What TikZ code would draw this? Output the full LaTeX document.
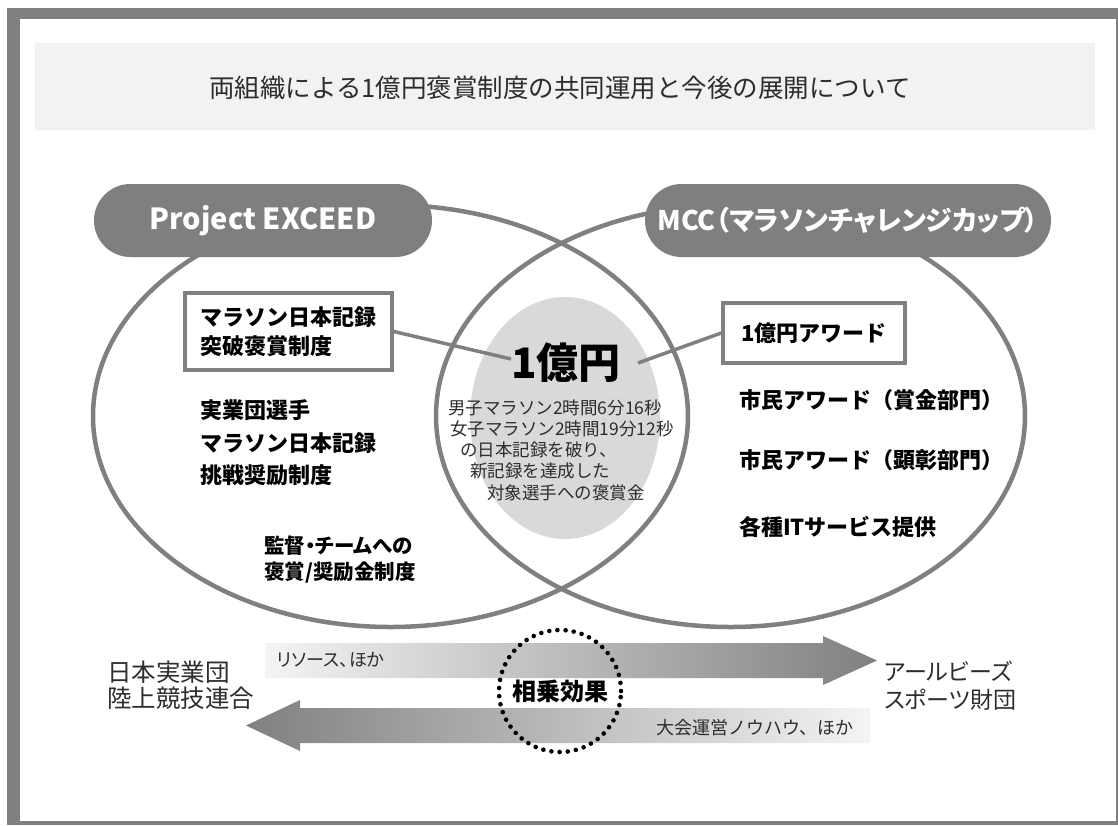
\documentclass[tikz,border=0pt]{standalone}
\usepackage{fontspec}
\setmainfont{Noto Sans CJK JP}
\newfontfamily\paltfont{Noto Sans CJK JP}[RawFeature=+palt]
\newcommand\myfs[2]{\fontsize{#1}{#2}\selectfont}
\definecolor{ring}{RGB}{128,128,128}
\definecolor{pillgray}{RGB}{127,127,127}
\definecolor{band}{RGB}{242,242,242}
\definecolor{blob}{RGB}{217,217,217}
\definecolor{txtdark}{RGB}{45,45,45}
\definecolor{arrowlight}{RGB}{244,244,244}
\begin{document}
\begin{tikzpicture}[x=1pt,y=-1pt,
  ringline/.style={draw=ring, line width=4.5},
  pill/.style={fill=pillgray, rounded corners=36.5, minimum width=338, minimum height=73, text=white, inner sep=0},
  framebox/.style={draw=ring, line width=3.5, fill=white, inner sep=0, align=left, font=\bfseries\myfs{22}{29}},
  conn/.style={draw=ring, line width=3.5},
  boldtxt/.style={font=\bfseries\myfs{22}{32.5}, align=left, text=black, inner sep=0, anchor=west},
  smalltxt/.style={font=\myfs{17.5}{21}, text=txtdark, inner sep=0, anchor=west},
  labeltxt/.style={font=\myfs{24.5}{26}, text=txtdark, inner sep=0, anchor=west, align=left},
  dotcircle/.style={circle, draw=black, line width=4.6, dash pattern=on 0pt off 8.2pt, line cap=round, minimum size=122, inner sep=0, font=\bfseries\myfs{24}{28}}
]
\useasboundingbox (0,0) rectangle (1118,825);
% outer frame
\fill[ring] (7,8) rectangle (1118,825);
\fill[white] (20,19) rectangle (1116,821);
% title band
\fill[band] (35,43) rectangle (1095,130);
\node[font=\myfs{25.5}{30}, text=txtdark, inner sep=0] (title) at (560,88) {両組織による1億円褒賞制度の共同運用と今後の展開について};

% central blob
\fill[blob] (565,418) ellipse [x radius=95, y radius=121];

% two ellipses
\draw[ringline] (390.5,416) ellipse [x radius=297.5, y radius=211];
\draw[ringline] (730.5,416) ellipse [x radius=294.5, y radius=211];

% pills
\node[pill, font=\bfseries\myfs{29}{34}] (pe) at (263,220.5) {Project EXCEED};
\node[pill, minimum width=406, font=\paltfont\bfseries\myfs{27}{32}] (mcc) at (848,220.5) {MCC（マラソンチャレンジカップ）};

% boxes
\node[framebox, minimum width=207, minimum height=77] (b1) at (288.5,331.5) {マラソン日本記録\\突破褒賞制度};
\node[framebox, minimum width=182, minimum height=60] (b2) at (814,333) {1億円アワード};

% center
\node[font=\bfseries\myfs{42}{46}, text=black, inner sep=0] (oku) at (566,363) {1億円};
\draw[conn] (b1.east) -- ([yshift=4]oku.west);
\draw[conn] ([xshift=17]oku.east) -- (b2.west);

\node[smalltxt] (s1) at (448,408) {男子マラソン2時間6分16秒};
\node[smalltxt] (s2) at (450,429) {女子マラソン2時間19分12秒};
\node[smalltxt] (s3) at (460,450) {の日本記録を破り、};
\node[smalltxt] (s4) at (470,471) {新記録を達成した};
\node[smalltxt] (s5) at (487,493) {対象選手への褒賞金};

% left texts
\node[boldtxt] (l1) at (200,443) {実業団選手\\マラソン日本記録\\挑戦奨励制度};
\node[boldtxt, font=\paltfont\bfseries\myfs{20.5}{26}] (l2) at (264,559.5) {監督・チームへの\\褒賞/奨励金制度};

% right texts
\node[boldtxt] (r1) at (739,400) {市民アワード（賞金部門）};
\node[boldtxt] (r2) at (739,460) {市民アワード（顕彰部門）};
\node[boldtxt] (r3) at (739,527) {各種ITサービス提供};

% bottom arrows
\shade[left color=arrowlight, right color=ring]
  (265,643) -- (823,643) -- (823,636) -- (877,660.5) -- (823,685) -- (823,678) -- (265,678) -- cycle;
\shade[left color=ring, right color=arrowlight]
  (246,725.5) -- (300,700) -- (300,708) -- (870,708) -- (870,743) -- (300,743) -- (300,751) -- cycle;

\node[smalltxt, font=\paltfont\myfs{18}{21}] (res) at (277,660) {リソース、ほか};
\node[smalltxt, font=\myfs{18}{21}] (know) at (656,728) {大会運営ノウハウ、ほか};

\node[labeltxt] (jp) at (107,685) {日本実業団\\陸上競技連合};
\node[labeltxt, font=\paltfont\myfs{23}{28}] (rb) at (884,686) {アールビーズ\\スポーツ財団};

\node[dotcircle] (syn) at (560,691) {相乗効果};
\end{tikzpicture}
\end{document}
